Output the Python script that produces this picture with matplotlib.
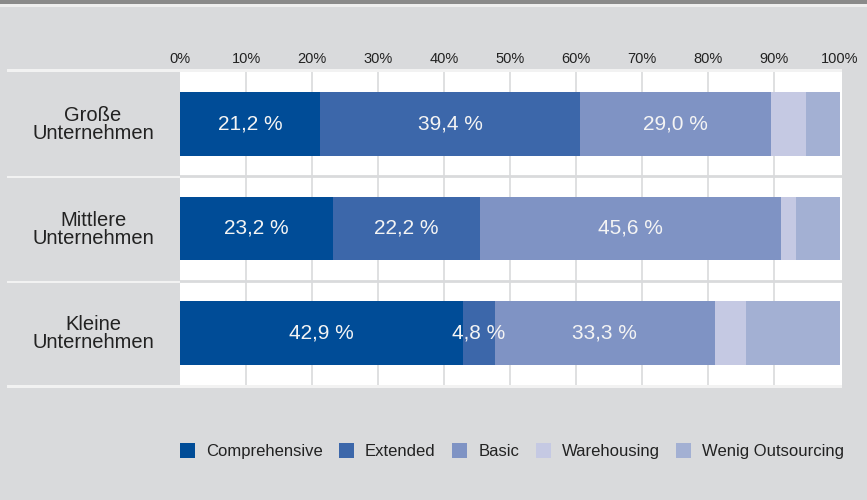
import matplotlib.pyplot as plt
from matplotlib.patches import Rectangle, Patch
import numpy as np

plt.rcParams['font.family'] = ['Liberation Sans', 'DejaVu Sans']

# data
companies = ["Große\nUnternehmen", "Mittlere\nUnternehmen", "Kleine\nUnternehmen"]
series = ["Comprehensive", "Extended", "Basic", "Warehousing", "Wenig Outsourcing"]
comprehensive = [21.2, 23.2, 42.9]
extended = [39.4, 22.2, 4.8]
basic = [29.0, 45.6, 33.3]
warehousing = [5.2, 2.4, 4.8]
wenig = [5.2, 6.6, 14.2]
labelled = [True, True, True, False, False]
ticks = list(range(0, 101, 10))
tick_labels = [f"{t}%" for t in ticks]

colors = ["#004c97", "#3c67aa", "#7f93c4", "#c5c9e3", "#a3b0d3"]
BG = "#d9dadc"
TXT = "#222222"

W, H = 867, 500
fig = plt.figure(figsize=(W / 100, H / 100), dpi=100, facecolor=BG)


def fx(x):
    return x / W


def fy(y):
    return 1 - y / H


def fig_rect(x0, y0, x1, y1, color):
    fig.add_artist(Rectangle((fx(x0), fy(y1)), fx(x1) - fx(x0), fy(y0) - fy(y1),
                             transform=fig.transFigure, color=color, lw=0, zorder=0))


# top stripe
fig_rect(0, 0, W, 4, "#8a8a8a")
fig_rect(0, 4, W, 7, "#eeeeee")
# table outline lines
fig_rect(7, 69, 842, 72, "#f2f2f2")
fig_rect(7, 385, 842, 388, "#f2f2f2")
fig_rect(7, 176, 180, 178, "#f2f2f2")
fig_rect(7, 281, 180, 283, "#f2f2f2")

ax = fig.add_axes([fx(180), fy(385), fx(842) - fx(180), fy(72) - fy(385)])
ax.set_facecolor("white")
ax.set_xlim(0, 100.3)
ax.set_ylim(2.5, -0.5)

for t in ticks[1:-1]:
    ax.axvline(t, color=BG, lw=1.2, zorder=1)
for y in [0.5, 1.5]:
    ax.axhline(y, color=BG, lw=2, zorder=1)

values = [comprehensive, extended, basic, warehousing, wenig]
ypos = np.arange(len(companies))
left = np.zeros(len(companies))
for vals, col, name, lab in zip(values, colors, series, labelled):
    vals = np.array(vals)
    ax.barh(ypos, vals, left=left, height=0.61, color=col, lw=0, zorder=2)
    if lab:
        for y, l, v in zip(ypos, left, vals):
            ax.text(l + v / 2, y, f"{v:.1f} %".replace(".", ","), ha="center", va="center",
                    color="#f4f4f4", fontsize=15, zorder=3)
    left += vals

ax.xaxis.tick_top()
ax.set_xticks(ticks)
ax.set_xticklabels(tick_labels, fontsize=10.5, color=TXT)
ax.tick_params(axis="x", length=0, pad=4)
ax.set_yticks([])
for s in ax.spines.values():
    s.set_visible(False)

# category labels
row_centers = [124.5, 229.5, 333.5]
for name, yc in zip(companies, row_centers):
    fig.text(fx(93), fy(yc), name, ha="center", va="center", fontsize=14.5,
             color=TXT, linespacing=0.95)

handles = [Patch(facecolor=c, edgecolor="none") for c in colors]
fig.legend(handles, series, loc="center", bbox_to_anchor=(fx(512), fy(451)), ncol=5,
           frameon=False, fontsize=12, handlelength=0.9, handleheight=1.0,
           handletextpad=0.65, columnspacing=1.0, labelcolor=TXT)

fig.savefig("out.png", dpi=100, facecolor=BG)
